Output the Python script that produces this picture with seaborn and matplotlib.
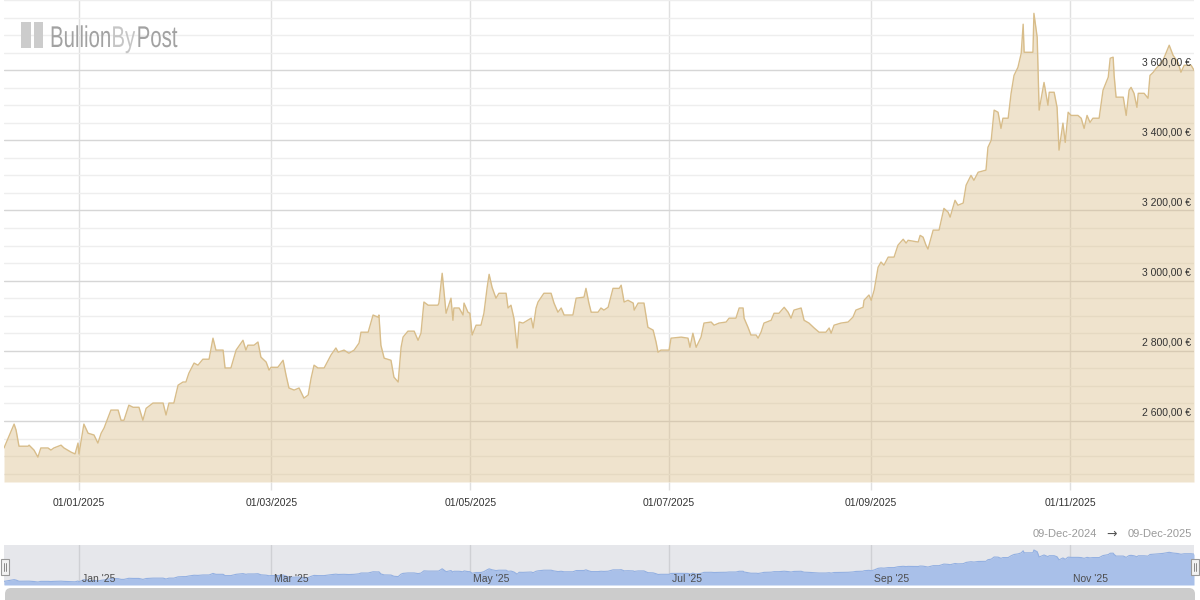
import seaborn as sns
import matplotlib.pyplot as plt
import matplotlib.dates as mdates
import pandas as pd
from matplotlib.patches import Rectangle, FancyBboxPatch, PathPatch
from matplotlib.lines import Line2D
from matplotlib.textpath import TextPath
from matplotlib.font_manager import FontProperties
from matplotlib.transforms import Affine2D

# Gold price in EUR (days since 09-Dec-2024, price)
start_date = pd.Timestamp('2024-12-09')
end_date = pd.Timestamp('2025-12-09')
day_offset = [
    0.0, 3.1, 3.7, 4.6, 7.4, 7.7, 9.2, 10.4, 11.3, 13.5, 14.4, 15.3, 17.5, 18.4,
    20.6, 21.8, 22.7, 23.0, 24.5, 25.8, 27.6, 28.8, 29.8, 30.7, 32.8, 35.0, 35.9,
    36.8, 38.3, 39.6, 41.4, 42.6, 43.6, 45.7, 48.8, 49.7, 50.6, 52.1, 53.4, 54.9,
    55.8, 56.7, 58.3, 59.5, 61.0, 62.9, 64.1, 65.0, 67.2, 67.8, 69.6, 71.2, 73.3,
    74.2, 74.8, 76.7, 77.9, 78.8, 80.4, 81.3, 81.9, 84.0, 85.6, 86.5, 87.4, 89.0,
    90.5, 92.0, 93.3, 94.2, 95.1, 96.3, 98.2, 100.3, 101.8, 102.5, 104.3, 105.8,
    107.4, 108.9, 109.5, 111.7, 113.2, 114.7, 115.0, 115.6, 116.6, 118.7, 119.6,
    120.9, 121.8, 122.4, 123.9, 125.8, 127.0, 127.9, 128.8, 130.1, 133.1, 133.4,
    134.4, 135.0, 135.6, 137.1, 137.7, 138.0, 139.6, 140.8, 141.1, 142.3, 142.9,
    143.6, 144.8, 146.3, 147.2, 148.2, 148.8, 149.7, 150.9, 151.8, 154.0, 154.6,
    155.5, 156.4, 157.4, 158.0, 159.2, 161.7, 162.3, 163.2, 163.8, 165.6, 167.8,
    168.7, 169.9, 170.9, 171.8, 174.5, 175.5, 177.9, 178.5, 179.4, 180.1, 182.2,
    183.1, 184.0, 185.3, 186.8, 188.7, 189.3, 190.2, 191.4, 193.0, 193.3, 194.5,
    196.3, 197.5, 199.1, 200.0, 200.6, 201.5, 204.0, 204.6, 207.7, 209.8, 210.4,
    211.3, 212.3, 213.8, 214.7, 216.9, 217.8, 219.3, 221.5, 222.4, 224.5, 225.5,
    226.7, 227.0, 228.2, 229.1, 230.7, 231.3, 232.2, 233.1, 235.3, 236.2, 237.7,
    239.3, 240.5, 241.4, 242.3, 244.5, 245.4, 246.9, 248.5, 250.0, 252.1, 253.1,
    253.7, 254.6, 256.7, 258.9, 260.4, 261.3, 263.5, 263.8, 265.3, 266.0, 266.9,
    268.1, 269.0, 269.9, 271.2, 273.0, 274.2, 275.8, 276.7, 277.3, 280.4, 281.0,
    281.9, 282.8, 283.4, 285.0, 286.8, 288.3, 289.6, 290.2, 291.7, 292.6, 294.2,
    295.1, 296.6, 297.5, 298.8, 301.2, 301.8, 302.8, 303.7, 304.9, 305.8, 306.4,
    308.0, 308.9, 309.8, 311.0, 312.0, 312.6, 312.9, 315.6, 315.9, 316.9, 317.5,
    319.0, 320.2, 320.6, 322.1, 323.0, 323.6, 324.8, 325.5, 326.4, 327.3, 329.4,
    330.4, 331.3, 332.2, 333.1, 334.0, 335.9, 337.1, 338.7, 339.3, 340.2, 340.5,
    341.1, 343.3, 344.2, 345.1, 345.7, 346.6, 347.5, 347.9, 349.7, 350.9, 351.5,
    352.5, 353.4, 354.3, 355.5, 357.4, 358.6, 360.1, 361.0, 362.0, 364.1, 365.0,
]
price = [
    2523, 2591, 2574, 2528, 2528, 2531, 2517, 2497, 2523, 2523, 2517, 2523, 2531, 2523,
    2511, 2506, 2537, 2506, 2591, 2565, 2560, 2537, 2565, 2580, 2631, 2631, 2602,
    2602, 2645, 2639, 2639, 2602, 2636, 2651, 2651, 2617, 2651, 2651, 2702, 2711,
    2711, 2736, 2765, 2759, 2776, 2776, 2836, 2802, 2802, 2751, 2751, 2802, 2830,
    2802, 2816, 2816, 2825, 2782, 2768, 2745, 2753, 2753, 2773, 2731, 2694, 2688,
    2694, 2665, 2674, 2722, 2759, 2751, 2751, 2788, 2808, 2796, 2802, 2793,
    2802, 2822, 2853, 2853, 2902, 2896, 2902, 2816, 2779, 2773, 2725,
    2711, 2810, 2839, 2856, 2856, 2830, 2850, 2939, 2930, 2930, 2936,
    3021, 2964, 2907, 2950, 2887, 2922, 2922, 2902, 2936, 2910, 2907,
    2845, 2873, 2873, 2907, 2981, 3018, 2981, 2950, 2964, 2964, 2922,
    2930, 2893, 2808, 2882, 2879, 2893, 2865, 2922, 2939, 2964, 2964,
    2936, 2910, 2922, 2902, 2902, 2950, 2953, 2978, 2936, 2910, 2910,
    2922, 2916, 2924, 2978, 2978, 2987, 2939, 2944, 2936, 2916, 2936,
    2936, 2867, 2859, 2825, 2796, 2802, 2802, 2836, 2839, 2836, 2810,
    2850, 2810, 2839, 2879, 2882, 2873, 2879, 2882, 2893, 2893, 2922,
    2922, 2893, 2867, 2845, 2845, 2836, 2853, 2879, 2887, 2907, 2907,
    2924, 2910, 2893, 2916, 2922, 2887, 2879, 2865, 2853, 2853, 2865,
    2850, 2873, 2879, 2882, 2896, 2916, 2924, 2944, 2959, 2944, 2973,
    3038, 3053, 3044, 3067, 3067, 3101, 3118, 3107, 3115, 3110, 3129,
    3124, 3101, 3090, 3144, 3144, 3206, 3195, 3181, 3229, 3215, 3221,
    3272, 3300, 3286, 3309, 3315, 3380, 3400, 3486, 3480, 3434, 3463,
    3463, 3534, 3585, 3608, 3648, 3731, 3651, 3651, 3762, 3694, 3486,
    3565, 3500, 3537, 3537, 3494, 3372, 3449, 3394, 3480, 3471, 3471,
    3463, 3434, 3471, 3451, 3463, 3463, 3543, 3580, 3634, 3637, 3585,
    3523, 3523, 3471, 3543, 3551, 3534, 3494, 3534, 3534, 3520, 3585,
    3594, 3605, 3614, 3628, 3671, 3642, 3622, 3594, 3614, 3614, 3600,
]

y_major = [2600, 2800, 3000, 3200, 3400, 3600]
x_tick_months = [1, 3, 5, 7, 9, 11]
nav_labels = ["Jan '25", "Mar '25", "May '25", "Jul '25", "Sep '25", "Nov '25"]
nav_dates = ['2025-01-01', '2025-03-01', '2025-05-01', '2025-07-01', '2025-09-01', '2025-11-01']

df = pd.DataFrame({'date': start_date + pd.to_timedelta(day_offset, unit='D'),
                   'price': price})

sns.set_theme(style='white')
plt.rcParams['font.family'] = ['Liberation Sans', 'DejaVu Sans']

W, H = 1200, 600
fig = plt.figure(figsize=(12, 6), dpi=100)

# ---- main chart ----
y_lo, y_hi = 2426, 3800
ax = fig.add_axes([4 / W, 1 - 482 / H, 1190 / W, 482 / H])
ax.fill_between(df['date'], df['price'], y_lo, color='#D9BA82', alpha=0.4, lw=0, zorder=2)
sns.lineplot(data=df, x='date', y='price', ax=ax, color='#D8BD8A', lw=1.0, zorder=3)
ax.set_xlim(start_date, end_date)
ax.set_ylim(y_lo, y_hi)

ax.set_yticks(y_major)
ax.set_yticks(list(range(2450, 3801, 50)), minor=True)
ax.grid(which='major', axis='y', color='#d6d6d6', lw=1)
ax.grid(which='minor', axis='y', color='#eeeeee', lw=1)
ax.xaxis.set_major_locator(mdates.MonthLocator(bymonth=x_tick_months))
ax.xaxis.set_major_formatter(mdates.DateFormatter('%d/%m/%Y'))
ax.grid(which='major', axis='x', color='#e0e0e0', lw=1)
ax.set_axisbelow(True)
ax.tick_params(axis='x', length=6, width=1, color='#e0e0e0', labelsize=7.5,
               labelcolor='#333333', pad=5.5, bottom=True)
ax.tick_params(axis='y', left=False, right=False, labelleft=False, which='both')
ax.set_xlabel('')
ax.set_ylabel('')
for s in ax.spines.values():
    s.set_visible(False)

for v in y_major:
    ax.annotate(f'{v // 1000} {v % 1000:03d},00 €', xy=(1, v),
                xycoords=ax.get_yaxis_transform(), xytext=(-3, 3),
                textcoords='offset pixels', ha='right', va='bottom',
                fontsize=7.5, color='#333333')

# ---- logo (condensed lettering via scaled text paths, pixel coords) ----
for bx, bw in [(21, 10), (34, 9)]:
    fig.add_artist(Rectangle((bx / W, 1 - 48 / H), bw / W, 26 / H,
                             transform=fig.transFigure, color='#cccccc', lw=0))
logo_fp = FontProperties(family='Liberation Sans')
lx = 50
for word, col in [('Bullion', '#a2a2a2'), ('By', '#c6c6c6'), ('Post', '#a2a2a2')]:
    tp = TextPath((0, 0), word, size=30, prop=logo_fp)
    tr = Affine2D().scale(0.68, 1.0).translate(lx, H - 47)
    fig.add_artist(PathPatch(tp, transform=tr, facecolor=col, lw=0))
    lx += tp.get_extents().x1 * 0.68 + 1.5

# ---- range text ----
fig.text(1097 / W, 1 - 534 / H, '09-Dec-2024', ha='right', va='center',
         fontsize=8, color='#9a9a9a')
fig.text(1112 / W, 1 - 534 / H, '\u2192', ha='center', va='center',
         fontsize=9, color='#555555', family=['DejaVu Sans'])
fig.text(1192 / W, 1 - 534 / H, '09-Dec-2025', ha='right', va='center',
         fontsize=8, color='#9a9a9a')

# ---- navigator ----
nav = fig.add_axes([4 / W, 1 - 585 / H, 1190 / W, 40 / H])
nav.set_facecolor('#e6e7eb')
nav.fill_between(df['date'], df['price'], 2380, color='#a9c0e9', lw=0, zorder=2)
sns.lineplot(data=df, x='date', y='price', ax=nav, color='#93b0e2', lw=0.8, zorder=3)
nav.set_xlim(start_date, end_date)
nav.set_ylim(2380, 3960)
for d, lab in zip(nav_dates, nav_labels):
    nav.axvline(pd.Timestamp(d), color='#cfd0d4', lw=1, zorder=1)
    nav.annotate(lab, xy=(pd.Timestamp(d), 0), xycoords=('data', 'axes fraction'),
                 xytext=(3, 1), textcoords='offset pixels', ha='left', va='bottom',
                 fontsize=7.5, color='#4d4d4d', zorder=4)
nav.set_xticks([])
nav.set_yticks([])
nav.set_xlabel('')
nav.set_ylabel('')
for s in nav.spines.values():
    s.set_visible(False)

# handles
for hx in [1, 1191]:
    fig.add_artist(Rectangle((hx / W, 1 - 575 / H), 8 / W, 16 / H,
                             transform=fig.transFigure, facecolor='#f2f2f2',
                             edgecolor='#999999', lw=0.8))
    for gx in [hx + 3, hx + 5]:
        fig.add_artist(Line2D([gx / W, gx / W], [1 - 571 / H, 1 - 563 / H],
                              transform=fig.transFigure, color='#777777', lw=0.6))

# scrollbar
sb = fig.add_axes([0, 0, 1, 12 / H])
sb.set_xlim(0, W)
sb.set_ylim(0, 12)
sb.axis('off')
sb.add_patch(FancyBboxPatch((5, -8), 1190, 20, boxstyle='round,pad=0,rounding_size=6',
                            facecolor='#cccccc', edgecolor='none'))

fig.savefig('out.png', dpi=100)
